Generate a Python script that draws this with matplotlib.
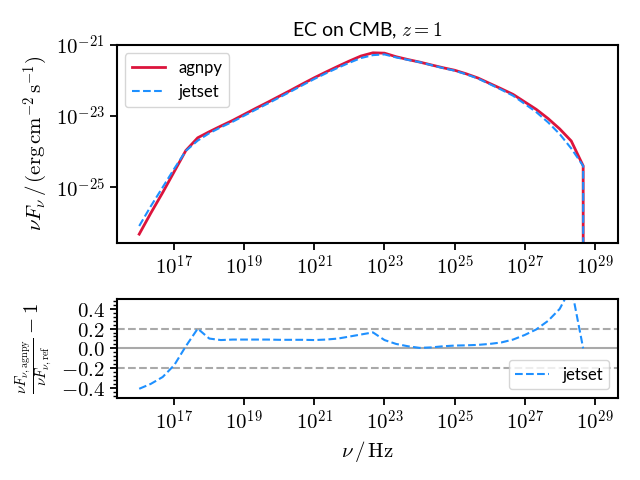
import numpy as np
import matplotlib
matplotlib.use("Agg")
import matplotlib.pyplot as plt
from matplotlib.ticker import NullLocator, FixedLocator, AutoMinorLocator, FuncFormatter

plt.rcParams["mathtext.fontset"] = "cm"
plt.rcParams["font.family"] = ["Lato", "DejaVu Sans"]

# frequency grid: log10(nu / Hz)
log10_nu = [16.00, 16.33, 16.67, 17.00, 17.33, 17.67, 18.00, 18.33, 18.67, 19.00,
            19.33, 19.67, 20.00, 20.33, 20.67, 21.00, 21.33, 21.67, 22.00, 22.33,
            22.67, 23.00, 23.33, 23.67, 24.00, 24.33, 24.67, 25.00, 25.33, 25.67,
            26.00, 26.33, 26.67, 27.00, 27.33, 27.67, 28.00, 28.33, 28.67, 29.00]

# log10(nuFnu / erg cm-2 s-1)
log10_sed_agnpy = [-26.32, -25.73, -25.15, -24.56, -23.97, -23.61, -23.44, -23.28, -23.12, -22.95,
                   -22.78, -22.61, -22.44, -22.27, -22.09, -21.92, -21.76, -21.60, -21.45, -21.31,
                   -21.22, -21.23, -21.33, -21.41, -21.48, -21.56, -21.64, -21.71, -21.81, -21.93,
                   -22.08, -22.23, -22.39, -22.60, -22.81, -23.07, -23.36, -23.70, -24.40, -np.inf]

log10_sed_jetset = [-26.091, -25.536, -25.001, -24.479, -23.979, -23.689, -23.481, -23.315, -23.157, -22.987,
                    -22.817, -22.647, -22.476, -22.306, -22.126, -21.955, -21.797, -21.641, -21.499, -21.367,
                    -21.285, -21.265, -21.349, -21.419, -21.482, -21.564, -21.649, -21.722, -21.823, -21.945,
                    -22.099, -22.255, -22.427, -22.655, -22.886, -23.177, -23.506, -23.910, -24.400, -np.inf]

x_ticks = [1e17, 1e19, 1e21, 1e23, 1e25, 1e27, 1e29]
y_ticks_sed = [1e-25, 1e-23, 1e-21]
y_ticks_dev = [-0.4, -0.2, 0.0, 0.2, 0.4]

nu = np.power(10.0, np.array(log10_nu))
sed_agnpy = np.power(10.0, np.array(log10_sed_agnpy))
sed_jetset = np.power(10.0, np.array(log10_sed_jetset))
with np.errstate(divide="ignore", invalid="ignore"):
    deviation = sed_agnpy / sed_jetset - 1

pow_fmt = FuncFormatter(lambda v, p: r"$10^{%d}$" % int(round(np.log10(v))))
lin_fmt = FuncFormatter(lambda v, p: r"$%.1f$" % v if abs(v) > 1e-9 else r"$0.0$")

fig = plt.figure(figsize=(6.4, 4.8), dpi=100)
ax1 = fig.add_axes([0.1823, 0.4944, 0.7829, 0.4119])
ax2 = fig.add_axes([0.1823, 0.1715, 0.7829, 0.2056])

for ax in (ax1, ax2):
    for sp in ax.spines.values():
        sp.set_linewidth(1.5)
    ax.tick_params(which="major", length=5, width=1.3, labelsize=15)
    ax.tick_params(which="minor", length=3, width=1.0)

ax1.loglog(nu, sed_agnpy, color="crimson", lw=2, label="agnpy")
ax1.loglog(nu, sed_jetset, color="dodgerblue", ls="--", lw=1.5, label="jetset")
ax1.set_xlim(10**15.357, 10**29.656)
ax1.set_ylim(10**-26.56, 1e-21)
ax1.xaxis.set_major_locator(FixedLocator(x_ticks))
ax1.yaxis.set_major_locator(FixedLocator(y_ticks_sed))
ax1.xaxis.set_minor_locator(NullLocator())
ax1.yaxis.set_minor_locator(NullLocator())
ax1.xaxis.set_major_formatter(pow_fmt)
ax1.yaxis.set_major_formatter(pow_fmt)
ax1.set_ylabel(r"$\nu F_{\nu}\,/\,({\rm erg}\,{\rm cm}^{-2}\,{\rm s}^{-1})$", fontsize=15)
ax1.set_title(r"EC on CMB, $z = 1$", fontsize=14)
ax1.legend(loc="upper left", fontsize=12)

ax2.axhline(0, color="darkgray", lw=1.5)
ax2.axhline(0.2, color="darkgray", lw=1.5, ls="--")
ax2.axhline(-0.2, color="darkgray", lw=1.5, ls="--")
ax2.semilogx(nu, deviation, color="dodgerblue", ls="--", lw=1.5, label="jetset")
ax2.set_xlim(10**15.357, 10**29.656)
ax2.set_ylim(-0.5, 0.5)
ax2.xaxis.set_major_locator(FixedLocator(x_ticks))
ax2.xaxis.set_minor_locator(NullLocator())
ax2.xaxis.set_major_formatter(pow_fmt)
ax2.yaxis.set_major_locator(FixedLocator(y_ticks_dev))
ax2.yaxis.set_minor_locator(AutoMinorLocator(5))
ax2.yaxis.set_major_formatter(lin_fmt)
ax2.set_ylabel(r"$\frac{\nu F_{\nu, \rm agnpy}}{\nu F_{\nu, \rm ref}} - 1$", fontsize=15)
ax2.set_xlabel(r"$\nu\,/\,{\rm Hz}$", fontsize=15)
ax2.legend(loc="lower right", fontsize=12)

fig.savefig("out.png", dpi=100)
